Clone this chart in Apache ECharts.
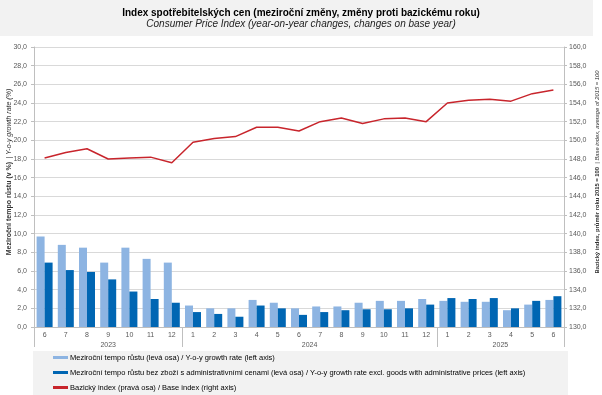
<!DOCTYPE html>
<html>
<head>
<meta charset="utf-8">
<script src="https://cdn.jsdelivr.net/npm/echarts@6/dist/echarts.min.js"></script>
<style>
html,body{margin:0;padding:0;background:#fff;}
#c{width:602px;height:395px;}
</style>
</head>
<body>
<div id="c"></div>
<script>
const months = ['6','7','8','9','10','11','12','1','2','3','4','5','6','7','8','9','10','11','12','1','2','3','4','5','6'];
const years = ['2023','2024','2025'];
const yoy = [9.7, 8.8, 8.5, 6.9, 8.5, 7.3, 6.9, 2.3, 2.0, 2.0, 2.9, 2.6, 2.0, 2.2, 2.2, 2.6, 2.8, 2.8, 3.0, 2.8, 2.7, 2.7, 1.8, 2.4, 2.9];
const yoyExclAdmin = [6.9, 6.1, 5.9, 5.1, 3.8, 3.0, 2.6, 1.6, 1.4, 1.1, 2.3, 2.0, 1.3, 1.6, 1.8, 1.9, 1.9, 2.0, 2.4, 3.1, 3.0, 3.1, 2.0, 2.8, 3.3];
const baseIndex = [148.1, 148.7, 149.1, 148.0, 148.1, 148.2, 147.6, 149.8, 150.2, 150.4, 151.4, 151.4, 151.0, 152.0, 152.4, 151.8, 152.3, 152.4, 152.0, 154.0, 154.3, 154.4, 154.2, 155.0, 155.4];
const seriesNames = [
  'Meziroční tempo růstu (levá osa) / Y-o-y growth rate (left axis)',
  'Meziroční tempo růstu bez zboží s administrativními cenami (levá osa) / Y-o-y growth rate excl. goods with administrative prices (left axis)',
  'Bazický index (pravá osa) / Base index (right axis)'
];

// Build a half-month slot axis for year group labels (boundaries and centers)
const groupStarts = [];
months.forEach((m, i) => { if (i === 0 || m === '1') groupStarts.push(i); });
const slotCount = months.length * 2 + 1;
const yearSlots = new Array(slotCount).fill('');
const boundarySlots = [];
groupStarts.forEach((s, g) => {
  const e = g + 1 < groupStarts.length ? groupStarts[g + 1] : months.length;
  boundarySlots.push(s * 2);
  yearSlots[s + e] = years[g];
});
boundarySlots.push(months.length * 2);

const fmt = v => v.toFixed(1).replace('.', ',');
const axisGrey = '#bfbfbf';
const gridGrey = '#d9d9d9';
const labelColor = '#595959';
const font = 'Liberation Sans, Arial, sans-serif';

const chart = echarts.init(document.getElementById('c'), null, {renderer: 'canvas'});
chart.setOption({
  animation: false,
  backgroundColor: '#fff',
  textStyle: {fontFamily: font},
  graphic: [
    {type: 'rect', z: -1, shape: {x: 0, y: 0, width: 593, height: 36}, style: {fill: '#f2f2f2'}},
    {type: 'rect', z: -1, shape: {x: 33, y: 351, width: 535, height: 44}, style: {fill: '#f2f2f2'}}
  ],
  title: {
    text: 'Index spotřebitelských cen (meziroční změny, změny proti bazickému roku)',
    subtext: 'Consumer Price Index (year-on-year changes, changes on base year)',
    left: 'center',
    top: 3,
    itemGap: 1,
    textStyle: {fontSize: 10, fontWeight: 'bold', color: '#000', fontFamily: font},
    subtextStyle: {fontSize: 10, fontStyle: 'italic', color: '#222', fontFamily: font}
  },
  legend: {
    orient: 'vertical',
    left: 53,
    top: 353,
    padding: 0,
    itemWidth: 15,
    itemHeight: 3,
    itemGap: 6,
    icon: 'rect',
    textStyle: {fontSize: 7.5, lineHeight: 9, color: '#000', fontFamily: font, padding: [0,0,0,-3]},
    data: seriesNames
  },
  grid: {left: 34, right: 38, top: 47, bottom: 68, outerBoundsMode: 'none', containLabel: false},
  xAxis: [
    {
      type: 'category',
      data: months,
      position: 'bottom',
      axisLine: {lineStyle: {color: axisGrey}},
      axisTick: {interval: 0, length: 8, lineStyle: {color: axisGrey}},
      axisLabel: {interval: 0, fontSize: 7, color: labelColor, margin: 5},
      splitLine: {show: false}
    },
    {
      type: 'category',
      data: yearSlots,
      boundaryGap: false,
      position: 'bottom',
      axisLine: {show: false},
      axisTick: {show: true, length: 20, lineStyle: {color: axisGrey}, interval: (i) => boundarySlots.includes(i)},
      axisLabel: {interval: (i, v) => v !== '', fontSize: 7, color: labelColor, margin: 15},
      splitLine: {show: false}
    }
  ],
  yAxis: [
    {
      type: 'value',
      min: 0, max: 30, interval: 2,
      name: '{b|Meziroční tempo růstu (v %)} {n|| Y-o-y growth rate (%)}',
      nameLocation: 'middle',
      nameRotate: 90,
      nameGap: 19,
      nameMoveOverlap: false,
      nameTextStyle: {
        padding: [0, 0, 0, 30],
        rich: {
          b: {fontSize: 7, fontWeight: 'bold', color: '#333', fontFamily: font},
          n: {fontSize: 7, fontStyle: 'italic', color: '#333', fontFamily: font}
        }
      },
      axisLine: {show: true, lineStyle: {color: axisGrey}},
      axisTick: {show: true, length: 3, lineStyle: {color: axisGrey}},
      axisLabel: {fontSize: 7, color: labelColor, margin: 7, formatter: fmt},
      splitLine: {lineStyle: {color: gridGrey}}
    },
    {
      type: 'value',
      min: 130, max: 160, interval: 2,
      name: '{b|Bazický index, průměr roku 2015 = 100} {n|| Base index, average of 2015 = 100}',
      nameLocation: 'middle',
      nameRotate: 90,
      nameGap: 27,
      nameMoveOverlap: false,
      nameTextStyle: {
        padding: [0, 0, 0, 30],
        rich: {
          b: {fontSize: 5.8, fontWeight: 'bold', color: '#333', fontFamily: font},
          n: {fontSize: 5.8, fontStyle: 'italic', color: '#333', fontFamily: font}
        }
      },
      axisLine: {show: true, lineStyle: {color: axisGrey}},
      axisTick: {show: true, length: 3, lineStyle: {color: axisGrey}},
      axisLabel: {fontSize: 7, color: labelColor, margin: 5, formatter: fmt},
      splitLine: {show: false}
    }
  ],
  series: [
    {
      name: seriesNames[0], type: 'bar', data: yoy, xAxisIndex: 0, yAxisIndex: 0,
      barWidth: 8, barGap: '0%',
      itemStyle: {color: '#8db4e2'}
    },
    {
      name: seriesNames[1], type: 'bar', data: yoyExclAdmin, xAxisIndex: 0, yAxisIndex: 0,
      barWidth: 8, barGap: '0%',
      itemStyle: {color: '#0066b3'}
    },
    {
      name: seriesNames[2], type: 'line', data: baseIndex, xAxisIndex: 0, yAxisIndex: 1,
      symbol: 'none',
      lineStyle: {color: '#c8252c', width: 1.5},
      itemStyle: {color: '#c8252c'}
    }
  ]
});
</script>
</body>
</html>
